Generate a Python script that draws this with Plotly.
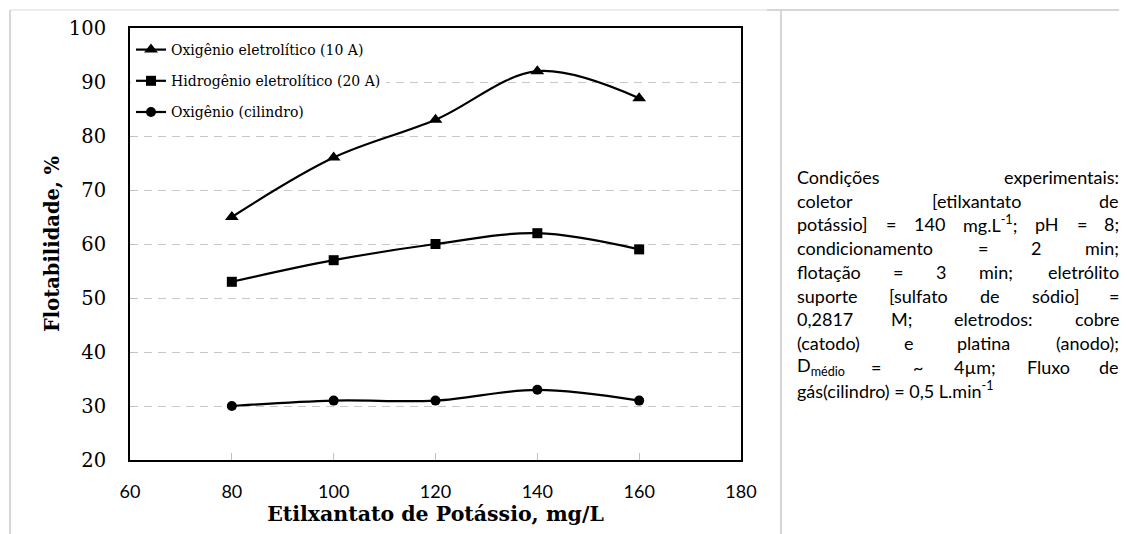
import re
import plotly.graph_objects as go

# ---- data ----
x_vals = [80, 100, 120, 140, 160]
oxi_eletro = [65, 76, 83, 92, 87]
hidro_eletro = [53, 57, 60, 62, 59]
oxi_cil = [30, 31, 31, 33, 31]
series_names = ["Oxigênio eletrolítico (10 A)", "Hidrogênio eletrolítico (20 A)", "Oxigênio (cilindro)"]
x_ticks = [60, 80, 100, 120, 140, 160, 180]
y_ticks = [20, 30, 40, 50, 60, 70, 80, 90, 100]

cond_lines = [
    "Condições experimentais:",
    "coletor [etilxantato de",
    "potássio] = 140 mg.L<sup>-1</sup>; pH = 8;",
    "condicionamento = 2 min;",
    "flotação = 3 min; eletrólito",
    "suporte [sulfato de sódio] =",
    "0,2817 M; eletrodos: cobre",
    "(catodo) e platina (anodo);",
    "D<sub>médio</sub> = ~ 4µm; Fluxo de",
    "gás(cilindro) = 0,5 L.min<sup>-1</sup>",
]

# ---- geometry: screen pixels (page has an 8px body margin) ----
OFF = 8
SW, SH = 1127, 534
W, H = SW - OFF, SH - OFF
L, R, T, B = 130, 741, 28, 460  # plot area in screen pixels


def px(xs):
    return (xs - L) / (R - L)


def py(ys):
    return (B - ys) / (B - T)


fig = go.Figure()
markers = ["triangle-up", "square", "circle"]
msizes = [12, 10, 10]
for i, (name, ys) in enumerate(zip(series_names, [oxi_eletro, hidro_eletro, oxi_cil])):
    fig.add_trace(go.Scatter(
        x=x_vals, y=ys, name=name, mode="lines+markers",
        line=dict(color="black", width=2.2, shape="spline", smoothing=1.0),
        marker=dict(symbol=markers[i], size=msizes[i], color="black"),
        legendgroup=str(i),
    ))

serif = "DejaVu Serif"
fig.update_layout(
    width=W, height=H,
    margin=dict(l=L - OFF, r=W - (R - OFF), t=T - OFF, b=H - (B - OFF), autoexpand=False),
    paper_bgcolor="white", plot_bgcolor="white",
    showlegend=True,
    legend=dict(x=px(131), y=py(34), xanchor="left", yanchor="top",
                bgcolor="white", font=dict(family=serif, size=14, color="black"),
                itemwidth=30, tracegroupgap=10, traceorder="grouped"),
    xaxis=dict(range=[60, 180], tickvals=x_ticks, ticks="inside", ticklen=7, tickcolor="#bfbfbf",
               showline=True, linecolor="black", linewidth=2, mirror=True, showgrid=False,
               zeroline=False, ticklabelstandoff=14,
               tickfont=dict(family="Lato", size=18, color="black"),
               title=dict(text="<b>Etilxantato de Potássio, mg/L</b>", standoff=6,
                          font=dict(family=serif, size=20.5, color="black"))),
    yaxis=dict(range=[20, 100], tickvals=y_ticks, ticks="inside", ticklen=5, tickcolor="#bfbfbf",
               showline=True, linecolor="black", linewidth=2, mirror=True,
               showgrid=True, gridcolor="#c8c8c8", gridwidth=1, griddash="8px,6px",
               zeroline=False, ticklabelstandoff=18,
               tickfont=dict(family=serif, size=19.5, color="black"),
               title=dict(text="<b>Flotabilidade, %</b>", standoff=4,
                          font=dict(family=serif, size=19.5, color="black"))),
)

# ---- table-like borders ----
border = "#d6d6d6"
fig.add_shape(type="line", xref="paper", yref="paper", x0=px(10), x1=px(767), y0=py(10), y1=py(10),
              line=dict(color="#ececec", width=2))
fig.add_shape(type="line", xref="paper", yref="paper", x0=px(767), x1=px(SW), y0=py(10), y1=py(10),
              line=dict(color=border, width=2))
fig.add_shape(type="line", xref="paper", yref="paper", x0=px(10), x1=px(10), y0=py(10), y1=py(SH),
              line=dict(color=border, width=2))
fig.add_shape(type="line", xref="paper", yref="paper", x0=px(781), x1=px(781), y0=py(10), y1=py(SH),
              line=dict(color=border, width=2))

# ---- justified text block ----
cw = {'a': 479, 'b': 525, 'c': 423, 'd': 525, 'e': 498, 'f': 305, 'g': 471, 'h': 525, 'i': 229,
      'j': 239, 'k': 455, 'l': 229, 'm': 799, 'n': 525, 'o': 527, 'p': 525, 'q': 525, 'r': 349,
      's': 391, 't': 335, 'u': 525, 'v': 452, 'w': 715, 'x': 433, 'y': 453, 'z': 395,
      '=': 498, '[': 307, ']': 307, '(': 303, ')': 303, ';': 268, ':': 268, ',': 250, '.': 252,
      '~': 498, 'C': 533, 'D': 615, 'F': 459, 'L': 420, 'M': 855, 'H': 623, 'µ': 525, '-': 306}
acc = {'á': 'a', 'ã': 'a', 'ç': 'c', 'õ': 'o', 'ó': 'o', 'é': 'e', 'ê': 'e', 'í': 'i'}


def word_width(wd, size):
    tot = 0.0
    for p in re.split(r'(<su[bp]>.*?</su[bp]>)', wd):
        scale = 1.0
        m = re.match(r'<su[bp]>(.*?)</su[bp]>', p)
        if m:
            p = m.group(1)
            scale = 0.65
        for ch in p:
            ch = acc.get(ch, ch)
            tot += (507 if ch.isdigit() else cw.get(ch, 500)) * scale
    return tot / 1000 * size


txt_size = 18
calib = 19.6
x_left, x_right = 795, 1121
y0_line, dy = 177, 23.7
for li, line in enumerate(cond_lines):
    yy = py(y0_line + li * dy)
    words = line.split(" ")
    if li == len(cond_lines) - 1:
        fig.add_annotation(x=px(x_left), y=yy, xref="paper", yref="paper", text=line,
                           showarrow=False, xanchor="left", yanchor="middle",
                           font=dict(family="Lato", size=txt_size, color="black"))
        continue
    ws = [word_width(w, calib) for w in words]
    gap = (x_right - x_left - sum(ws)) / (len(words) - 1)
    cur = x_left
    n = len(words)
    for k, (w, wd) in enumerate(zip(words, ws)):
        if k == 0:
            xa, xx = "left", x_left
        elif k == n - 1:
            xa, xx = "right", x_right
        else:
            xa, xx = "center", cur + wd / 2
        fig.add_annotation(x=px(xx), y=yy, xref="paper", yref="paper", text=w,
                           showarrow=False, xanchor=xa, yanchor="middle",
                           font=dict(family="Lato", size=txt_size, color="black"))
        cur += wd + gap

fig.write_html("out.html")
